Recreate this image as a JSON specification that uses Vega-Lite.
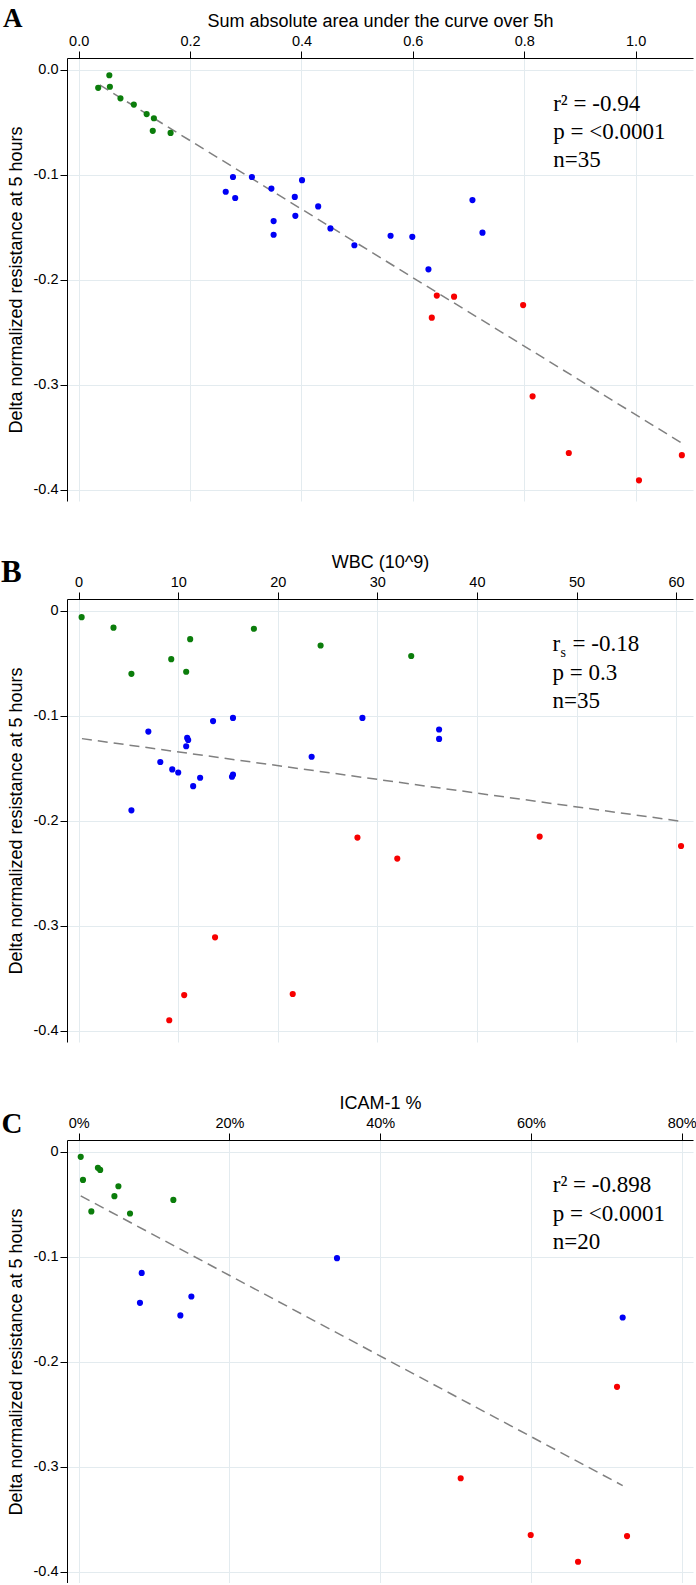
{
  "$schema": "https://vega.github.io/schema/vega-lite/v6.json",
  "background": "white",
  "padding": {"left": 1, "top": 5, "right": 0, "bottom": 0},
  "spacing": 98,
  "bounds": "flush",
  "resolve": {"scale": {"x": "independent", "y": "independent"}},
  "config": {
    "view": {"stroke": null},
    "axis": {
      "domainColor": "#000000",
      "domainWidth": 1,
      "tickColor": "#000000",
      "tickSize": 7,
      "gridColor": "#e3ebef",
      "gridWidth": 1,
      "labelFont": "Liberation Sans",
      "labelFontSize": 14.5,
      "labelColor": "#000000",
      "titleFont": "Liberation Sans",
      "titleFontSize": 18,
      "titleFontWeight": "normal",
      "titleColor": "#000000"
    },
    "axisTop": {"labelPadding": 3, "titlePadding": 3},
    "axisLeft": {"labelPadding": 2, "titlePadding": 8}
  },
  "datasets": {
    "ptsA": [
      {"auc": 0.035, "delta": -0.017, "g": "g"},
      {"auc": 0.055, "delta": -0.005, "g": "g"},
      {"auc": 0.056, "delta": -0.016, "g": "g"},
      {"auc": 0.075, "delta": -0.027, "g": "g"},
      {"auc": 0.099, "delta": -0.033, "g": "g"},
      {"auc": 0.122, "delta": -0.042, "g": "g"},
      {"auc": 0.135, "delta": -0.046, "g": "g"},
      {"auc": 0.133, "delta": -0.058, "g": "g"},
      {"auc": 0.165, "delta": -0.060, "g": "g"},
      {"auc": 0.277, "delta": -0.102, "g": "b"},
      {"auc": 0.264, "delta": -0.116, "g": "b"},
      {"auc": 0.281, "delta": -0.122, "g": "b"},
      {"auc": 0.311, "delta": -0.102, "g": "b"},
      {"auc": 0.346, "delta": -0.113, "g": "b"},
      {"auc": 0.350, "delta": -0.144, "g": "b"},
      {"auc": 0.350, "delta": -0.157, "g": "b"},
      {"auc": 0.388, "delta": -0.121, "g": "b"},
      {"auc": 0.389, "delta": -0.139, "g": "b"},
      {"auc": 0.401, "delta": -0.105, "g": "b"},
      {"auc": 0.430, "delta": -0.130, "g": "b"},
      {"auc": 0.452, "delta": -0.151, "g": "b"},
      {"auc": 0.495, "delta": -0.167, "g": "b"},
      {"auc": 0.560, "delta": -0.158, "g": "b"},
      {"auc": 0.599, "delta": -0.159, "g": "b"},
      {"auc": 0.707, "delta": -0.124, "g": "b"},
      {"auc": 0.725, "delta": -0.155, "g": "b"},
      {"auc": 0.628, "delta": -0.190, "g": "b"},
      {"auc": 0.643, "delta": -0.215, "g": "r"},
      {"auc": 0.674, "delta": -0.216, "g": "r"},
      {"auc": 0.634, "delta": -0.236, "g": "r"},
      {"auc": 0.798, "delta": -0.224, "g": "r"},
      {"auc": 0.815, "delta": -0.311, "g": "r"},
      {"auc": 0.880, "delta": -0.365, "g": "r"},
      {"auc": 1.006, "delta": -0.391, "g": "r"},
      {"auc": 1.083, "delta": -0.367, "g": "r"}
    ],
    "lineA": [
      {"auc": 0.0377, "delta": -0.0143},
      {"auc": 1.083, "delta": -0.3555}
    ],
    "statsA": [
      {"auc": 0.852, "delta": -0.032, "label": "r² = -0.94"},
      {"auc": 0.852, "delta": -0.059, "label": "p = <0.0001"},
      {"auc": 0.852, "delta": -0.086, "label": "n=35"}
    ],
    "letterA": [{"auc": -0.1186, "delta": 0.0407, "label": "A"}],
    "ptsB": [
      {"wbc": 0.3, "delta": -0.006, "g": "g"},
      {"wbc": 3.5, "delta": -0.016, "g": "g"},
      {"wbc": 11.2, "delta": -0.027, "g": "g"},
      {"wbc": 17.6, "delta": -0.017, "g": "g"},
      {"wbc": 24.3, "delta": -0.033, "g": "g"},
      {"wbc": 9.3, "delta": -0.046, "g": "g"},
      {"wbc": 5.3, "delta": -0.060, "g": "g"},
      {"wbc": 10.8, "delta": -0.058, "g": "g"},
      {"wbc": 33.4, "delta": -0.043, "g": "g"},
      {"wbc": 7.0, "delta": -0.115, "g": "b"},
      {"wbc": 13.5, "delta": -0.105, "g": "b"},
      {"wbc": 15.5, "delta": -0.102, "g": "b"},
      {"wbc": 10.9, "delta": -0.121, "g": "b"},
      {"wbc": 11.0, "delta": -0.123, "g": "b"},
      {"wbc": 10.8, "delta": -0.129, "g": "b"},
      {"wbc": 28.5, "delta": -0.102, "g": "b"},
      {"wbc": 36.2, "delta": -0.113, "g": "b"},
      {"wbc": 36.2, "delta": -0.122, "g": "b"},
      {"wbc": 23.4, "delta": -0.139, "g": "b"},
      {"wbc": 8.2, "delta": -0.144, "g": "b"},
      {"wbc": 9.4, "delta": -0.151, "g": "b"},
      {"wbc": 10.0, "delta": -0.154, "g": "b"},
      {"wbc": 12.2, "delta": -0.159, "g": "b"},
      {"wbc": 11.5, "delta": -0.167, "g": "b"},
      {"wbc": 15.4, "delta": -0.158, "g": "b"},
      {"wbc": 15.5, "delta": -0.156, "g": "b"},
      {"wbc": 5.3, "delta": -0.190, "g": "b"},
      {"wbc": 28.0, "delta": -0.216, "g": "r"},
      {"wbc": 32.0, "delta": -0.236, "g": "r"},
      {"wbc": 46.3, "delta": -0.215, "g": "r"},
      {"wbc": 60.5, "delta": -0.224, "g": "r"},
      {"wbc": 13.7, "delta": -0.311, "g": "r"},
      {"wbc": 10.6, "delta": -0.366, "g": "r"},
      {"wbc": 21.5, "delta": -0.365, "g": "r"},
      {"wbc": 9.1, "delta": -0.390, "g": "r"}
    ],
    "lineB": [
      {"wbc": 0.33, "delta": -0.1217},
      {"wbc": 60.4, "delta": -0.2003}
    ],
    "statsB": [
      {"wbc": 47.6, "delta": -0.032, "label": "r"},
      {"wbc": 49.6, "delta": -0.032, "label": "= -0.18"},
      {"wbc": 47.6, "delta": -0.059, "label": "p  = 0.3"},
      {"wbc": 47.6, "delta": -0.086, "label": "n=35"}
    ],
    "subB": [{"wbc": 48.4, "delta": -0.0402, "label": "s"}],
    "letterB": [{"wbc": -6.76, "delta": 0.0279, "label": "B"}],
    "ptsC": [
      {"icam": 0.0027, "delta": -0.005, "g": "g"},
      {"icam": 0.0057, "delta": -0.027, "g": "g"},
      {"icam": 0.0255, "delta": -0.0155, "g": "g"},
      {"icam": 0.0285, "delta": -0.0175, "g": "g"},
      {"icam": 0.0527, "delta": -0.033, "g": "g"},
      {"icam": 0.0474, "delta": -0.0425, "g": "g"},
      {"icam": 0.0168, "delta": -0.057, "g": "g"},
      {"icam": 0.0681, "delta": -0.059, "g": "g"},
      {"icam": 0.1256, "delta": -0.046, "g": "g"},
      {"icam": 0.3427, "delta": -0.1015, "g": "b"},
      {"icam": 0.0836, "delta": -0.1155, "g": "b"},
      {"icam": 0.1495, "delta": -0.138, "g": "b"},
      {"icam": 0.0813, "delta": -0.144, "g": "b"},
      {"icam": 0.1349, "delta": -0.156, "g": "b"},
      {"icam": 0.7217, "delta": -0.158, "g": "b"},
      {"icam": 0.7142, "delta": -0.224, "g": "r"},
      {"icam": 0.5068, "delta": -0.311, "g": "r"},
      {"icam": 0.5997, "delta": -0.365, "g": "r"},
      {"icam": 0.6625, "delta": -0.3905, "g": "r"},
      {"icam": 0.7275, "delta": -0.366, "g": "r"}
    ],
    "lineC": [
      {"icam": 0.0027, "delta": -0.0422},
      {"icam": 0.7217, "delta": -0.318}
    ],
    "statsC": [
      {"icam": 0.629, "delta": -0.032, "label": "r² = -0.898"},
      {"icam": 0.629, "delta": -0.059, "label": "p = <0.0001"},
      {"icam": 0.629, "delta": -0.086, "label": "n=20"}
    ],
    "letterC": [{"icam": -0.0886, "delta": 0.0181, "label": "C"}]
  },
  "vconcat": [
    {
      "width": 626,
      "height": 443,
      "layer": [
        {
          "data": {"name": "lineA"},
          "mark": {"type": "line", "color": "#808080", "strokeDash": [10, 6], "strokeWidth": 1.5},
          "encoding": {
            "x": {"field": "auc", "type": "quantitative",
              "scale": {"domain": [-0.021, 1.103], "nice": false, "zero": false},
              "axis": {"orient": "top", "title": "Sum absolute area under the curve over 5h", "values": [0, 0.2, 0.4, 0.6, 0.8, 1.0], "format": ".1f"}},
            "y": {"field": "delta", "type": "quantitative",
              "scale": {"domain": [-0.4107, 0.0114], "nice": false, "zero": false},
              "axis": {"orient": "left", "title": "Delta normalized resistance at 5 hours", "values": [0, -0.1, -0.2, -0.3, -0.4], "labelExpr": "replace(format(datum.value, '.1f'), '−', '-')"}}
          }
        },
        {
          "data": {"name": "ptsA"},
          "mark": {"type": "circle", "size": 38, "opacity": 1},
          "encoding": {
            "x": {"field": "auc", "type": "quantitative"},
            "y": {"field": "delta", "type": "quantitative"},
            "color": {"field": "g", "type": "nominal", "legend": null,
              "scale": {"domain": ["g", "b", "r"], "range": ["#0b7d0b", "#0000f5", "#f70000"]}}
          }
        },
        {
          "data": {"name": "statsA"},
          "mark": {"type": "text", "font": "Liberation Serif", "fontSize": 23, "align": "left", "baseline": "middle", "color": "#000000"},
          "encoding": {
            "x": {"field": "auc", "type": "quantitative"},
            "y": {"field": "delta", "type": "quantitative"},
            "text": {"field": "label"}
          }
        },
        {
          "data": {"name": "letterA"},
          "mark": {"type": "text", "font": "Liberation Serif", "fontSize": 27, "fontWeight": "bold", "align": "center", "baseline": "alphabetic", "color": "#000000"},
          "encoding": {
            "x": {"field": "auc", "type": "quantitative"},
            "y": {"field": "delta", "type": "quantitative"},
            "text": {"field": "label"}
          }
        }
      ]
    },
    {
      "width": 626,
      "height": 443,
      "layer": [
        {
          "data": {"name": "lineB"},
          "mark": {"type": "line", "color": "#808080", "strokeDash": [10, 6], "strokeWidth": 1.5},
          "encoding": {
            "x": {"field": "wbc", "type": "quantitative",
              "scale": {"domain": [-1.17, 61.7], "nice": false, "zero": false},
              "axis": {"orient": "top", "title": "WBC (10^9)", "values": [0, 10, 20, 30, 40, 50, 60]}},
            "y": {"field": "delta", "type": "quantitative",
              "scale": {"domain": [-0.4107, 0.0113], "nice": false, "zero": false},
              "axis": {"orient": "left", "title": "Delta normalized resistance at 5 hours", "values": [0, -0.1, -0.2, -0.3, -0.4], "labelExpr": "datum.value == 0 ? '0' : replace(format(datum.value, '.1f'), '−', '-')"}}
          }
        },
        {
          "data": {"name": "ptsB"},
          "mark": {"type": "circle", "size": 38, "opacity": 1},
          "encoding": {
            "x": {"field": "wbc", "type": "quantitative"},
            "y": {"field": "delta", "type": "quantitative"},
            "color": {"field": "g", "type": "nominal", "legend": null,
              "scale": {"domain": ["g", "b", "r"], "range": ["#0b7d0b", "#0000f5", "#f70000"]}}
          }
        },
        {
          "data": {"name": "statsB"},
          "mark": {"type": "text", "font": "Liberation Serif", "fontSize": 23, "align": "left", "baseline": "middle", "color": "#000000"},
          "encoding": {
            "x": {"field": "wbc", "type": "quantitative"},
            "y": {"field": "delta", "type": "quantitative"},
            "text": {"field": "label"}
          }
        },
        {
          "data": {"name": "subB"},
          "mark": {"type": "text", "font": "Liberation Serif", "fontSize": 14, "align": "left", "baseline": "middle", "color": "#000000"},
          "encoding": {
            "x": {"field": "wbc", "type": "quantitative"},
            "y": {"field": "delta", "type": "quantitative"},
            "text": {"field": "label"}
          }
        },
        {
          "data": {"name": "letterB"},
          "mark": {"type": "text", "font": "Liberation Serif", "fontSize": 31, "fontWeight": "bold", "align": "center", "baseline": "alphabetic", "color": "#000000"},
          "encoding": {
            "x": {"field": "wbc", "type": "quantitative"},
            "y": {"field": "delta", "type": "quantitative"},
            "text": {"field": "label"}
          }
        }
      ]
    },
    {
      "width": 626,
      "height": 443,
      "layer": [
        {
          "data": {"name": "lineC"},
          "mark": {"type": "line", "color": "#808080", "strokeDash": [10, 6], "strokeWidth": 1.5},
          "encoding": {
            "x": {"field": "icam", "type": "quantitative",
              "scale": {"domain": [-0.0155, 0.815], "nice": false, "zero": false},
              "axis": {"orient": "top", "title": "ICAM-1 %", "values": [0, 0.2, 0.4, 0.6, 0.8], "format": ".0%"}},
            "y": {"field": "delta", "type": "quantitative",
              "scale": {"domain": [-0.4107, 0.011], "nice": false, "zero": false},
              "axis": {"orient": "left", "title": "Delta normalized resistance at 5 hours", "values": [0, -0.1, -0.2, -0.3, -0.4], "labelExpr": "datum.value == 0 ? '0' : replace(format(datum.value, '.1f'), '−', '-')"}}
          }
        },
        {
          "data": {"name": "ptsC"},
          "mark": {"type": "circle", "size": 38, "opacity": 1},
          "encoding": {
            "x": {"field": "icam", "type": "quantitative"},
            "y": {"field": "delta", "type": "quantitative"},
            "color": {"field": "g", "type": "nominal", "legend": null,
              "scale": {"domain": ["g", "b", "r"], "range": ["#0b7d0b", "#0000f5", "#f70000"]}}
          }
        },
        {
          "data": {"name": "statsC"},
          "mark": {"type": "text", "font": "Liberation Serif", "fontSize": 23, "align": "left", "baseline": "middle", "color": "#000000"},
          "encoding": {
            "x": {"field": "icam", "type": "quantitative"},
            "y": {"field": "delta", "type": "quantitative"},
            "text": {"field": "label"}
          }
        },
        {
          "data": {"name": "letterC"},
          "mark": {"type": "text", "font": "Liberation Serif", "fontSize": 29, "fontWeight": "bold", "align": "center", "baseline": "alphabetic", "color": "#000000"},
          "encoding": {
            "x": {"field": "icam", "type": "quantitative"},
            "y": {"field": "delta", "type": "quantitative"},
            "text": {"field": "label"}
          }
        }
      ]
    }
  ]
}
